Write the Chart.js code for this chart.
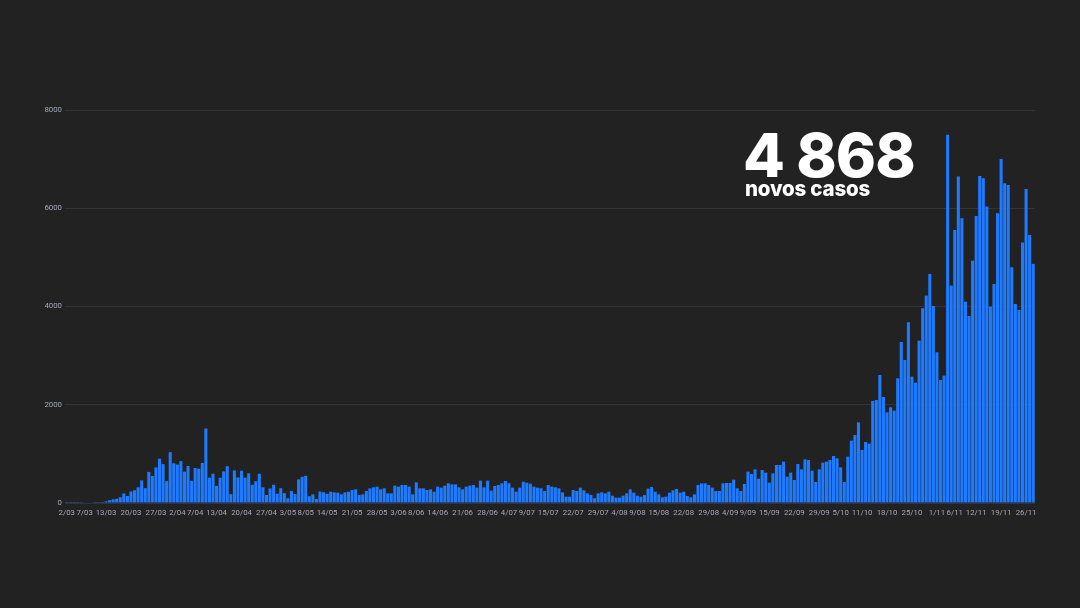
<!DOCTYPE html>
<html>
<head>
<meta charset="utf-8">
<script src="https://cdn.jsdelivr.net/npm/chart.js@4.4.0/dist/chart.umd.min.js"></script>
<style>
  html, body { margin: 0; padding: 0; background: #222222; }
  #wrap { position: relative; width: 1080px; height: 608px; }
  #total {
    position: absolute; left: 743px; top: 125px;
    font-family: Inter, sans-serif; font-weight: 800; font-size: 61px;
    line-height: 1; color: #ffffff; letter-spacing: -1px;
  }
  #sub {
    position: absolute; left: 745px; top: 179px;
    font-family: Inter, sans-serif; font-weight: 800; font-size: 20.5px;
    line-height: 1; color: #ffffff; letter-spacing: -0.2px;
  }
</style>
</head>
<body>
<div id="wrap">
  <canvas id="myChart" width="1080" height="608"></canvas>
  <div id="total">4 868</div>
  <div id="sub">novos casos</div>
</div>
<script>
// novos casos por dia, 2 de março a 28 de novembro
const march = [2, 2, 2, 3, 4, 8, 9, 9, 2, 18, 19, 34, 57, 76, 86, 117, 194, 143, 235, 260,
  320, 460, 302, 633, 549, 724, 902, 792, 446, 1035];
const april = [808, 783, 852, 638, 754, 452, 712, 699, 815, 1516, 515, 598, 349, 514, 643,
  750, 181, 663, 521, 657, 516, 603, 371, 444, 595, 320, 163, 295, 370, 190];
const may = [300, 200, 95, 245, 180, 480, 533, 553, 138, 175, 80, 234, 219, 187, 230, 217,
  210, 176, 217, 230, 265, 278, 163, 176, 244, 299, 319, 333, 278, 299, 197];
const june = [197, 353, 333, 366, 366, 333, 176, 421, 299, 299, 265, 278, 230, 333, 312,
  353, 400, 380, 380, 319, 278, 333, 353, 366, 312, 455, 319, 455, 251, 346];
const july = [366, 400, 448, 400, 312, 230, 312, 434, 414, 394, 333, 312, 299, 244, 366,
  333, 319, 299, 217, 129, 129, 265, 244, 312, 258, 197, 163, 95, 197, 217, 197];
const august = [230, 149, 109, 109, 149, 197, 278, 210, 149, 129, 163, 292, 326, 230, 176,
  115, 129, 210, 258, 285, 210, 230, 142, 115, 176, 366, 400, 400, 366, 312, 244];
const september = [244, 400, 407, 407, 475, 299, 244, 387, 638, 590, 685, 495, 672, 618,
  414, 604, 774, 774, 842, 536, 618, 468, 794, 685, 889, 876, 658, 428, 685, 821];
const october = [842, 876, 957, 909, 726, 428, 943, 1269, 1385, 1642, 1079, 1242, 1210,
  2077, 2097, 2606, 2158, 1846, 1948, 1880, 2538, 3278, 2912, 3679, 2572, 2450, 3305,
  3964, 4222, 4663, 4011];
const november = [3068, 2504, 2593, 7497, 4425, 5558, 6644, 5796, 4099, 3807, 4934, 5843,
  6658, 6610, 6034, 3998, 4459, 5898, 7004, 6509, 6475, 4798, 4052, 3930, 5301, 6393,
  5457, 4868];

const monthCodes = ["03", "04", "05", "06", "07", "08", "09", "10", "11"];
const monthFirstDay = [2, 1, 1, 1, 1, 1, 1, 1, 1];

const shownTicks = ["2/03", "7/03", "13/03", "20/03", "27/03", "2/04", "7/04", "13/04",
  "20/04", "27/04", "3/05", "8/05", "14/05", "21/05", "28/05", "3/06", "8/06", "14/06",
  "21/06", "28/06", "4/07", "9/07", "15/07", "22/07", "29/07", "4/08", "9/08", "15/08",
  "22/08", "29/08", "4/09", "9/09", "15/09", "22/09", "29/09", "5/10", "11/10", "18/10",
  "25/10", "1/11", "6/11", "12/11", "19/11", "26/11"];

const yTicks = [0, 2000, 4000, 6000, 8000];

const months = [march, april, may, june, july, august, september, october, november];
const labels = [];
const values = [];
months.forEach((m, mi) => {
  m.forEach((v, di) => {
    labels.push((monthFirstDay[mi] + di) + "/" + monthCodes[mi]);
    values.push(v);
  });
});

const ctx = document.getElementById("myChart");

const data = {
  labels: labels,
  datasets: [
    {
      label: "novos casos",
      backgroundColor: "#1e7bff",
      borderWidth: 0,
      barPercentage: 1,
      categoryPercentage: 0.86,
      data: values,
    },
  ],
};

const config = {
  type: "bar",
  data: data,
  options: {
    responsive: false,
    animation: false,
    layout: { padding: { left: 0, right: 45, top: 110, bottom: 83 } },
    plugins: { legend: { display: false }, tooltip: { enabled: false } },
    scales: {
      x: {
        grid: { display: false, drawTicks: false, tickLength: 0 },
        border: { display: false },
        ticks: {
          autoSkip: false,
          maxRotation: 0,
          minRotation: 0,
          padding: 5,
          color: "#a8a8ba",
          font: { family: "Roboto", size: 7.8 },
          callback: function (v) {
            const l = this.getLabelForValue(v);
            return shownTicks.includes(l) ? l : "";
          },
        },
        afterFit: (scale) => { scale.height = 22; },
      },
      y: {
        min: yTicks[0],
        max: yTicks[yTicks.length - 1],
        afterBuildTicks: (scale) => { scale.ticks = yTicks.map((v) => ({ value: v })); },
        grid: { color: "#333338", drawTicks: false, lineWidth: 1 },
        border: { display: false },
        ticks: {
          padding: 3,
          color: "#a8a8ba",
          font: { family: "Roboto", size: 7.8 },
          callback: (v) => String(v),
        },
        afterFit: (scale) => { scale.width = 65; },
      },
    },
  },
};

const myChart = new Chart(ctx, config);
</script>
</body>
</html>
